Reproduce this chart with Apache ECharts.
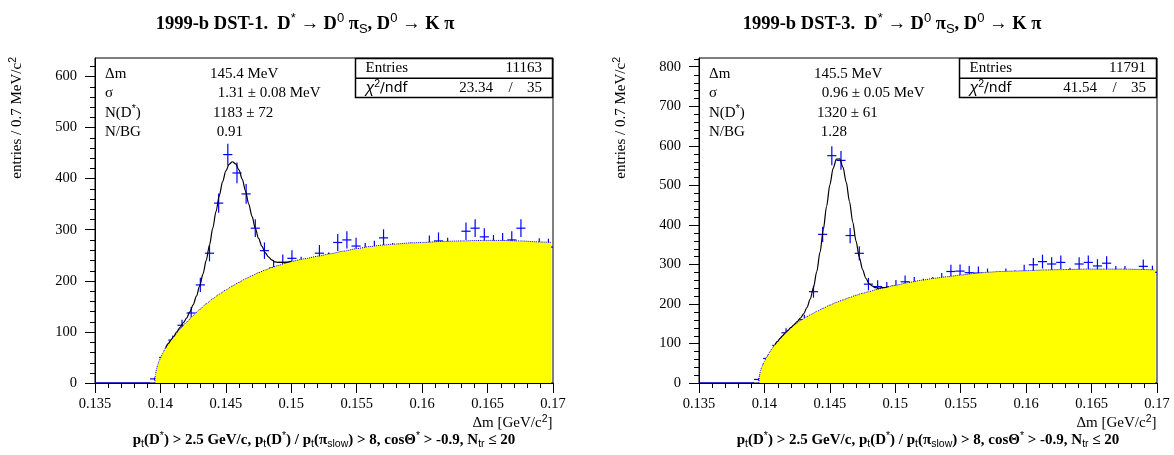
<!DOCTYPE html>
<html><head><meta charset="utf-8">
<script src="https://cdn.jsdelivr.net/npm/echarts@6/dist/echarts.min.js"></script>
<style>html,body{margin:0;padding:0;background:#fff}#c{width:1174px;height:455px}</style>
</head><body><div id="c"></div>
<script>
// ---------- histogram definition ----------
const X_MIN = 0.135, X_MAX = 0.17, BIN_W = 0.0007, N_BINS = 50;
const X_TICK_LABELS = ['0.135','0.14','0.145','0.15','0.155','0.16','0.165','0.17'];
const X_MAJOR = [0.135,0.14,0.145,0.15,0.155,0.16,0.165,0.17];
const X_MINOR = [0.136,0.137,0.138,0.139,0.141,0.142,0.143,0.144,0.146,0.147,0.148,0.149,0.151,0.152,0.153,0.154,0.156,0.157,0.158,0.159,0.161,0.162,0.163,0.164,0.166,0.167,0.168,0.169];
const Y1_MAX = 636, Y2_MAX = 822;
const Y1_TICKS = [0,100,200,300,400,500,600];
const Y2_TICKS = [0,100,200,300,400,500,600,700,800];
const Y1_MINOR = [20,40,60,80,120,140,160,180,220,240,260,280,320,340,360,380,420,440,460,480,520,540,560,580,620];
const Y2_MINOR = [20,40,60,80,120,140,160,180,220,240,260,280,320,340,360,380,420,440,460,480,520,540,560,580,620,640,660,680,720,740,760,780,820];

// ---------- DST-1 (left) ----------
const counts1 = [0,0,0,0,0,0,8,50,84,113,137,192,254,352,447,411,370,303,259,225,
  236,244,232,225,254,240,275,280,268,258,262,284,258,250,259,258,272,278,268,255,
  297,303,286,273,277,280,303,258,267,266];
const bgX1 = [0.13957,0.13962,0.1397,0.1398,0.1399,0.1400,0.1402,0.1404,0.1406,0.1408,0.1410,
  0.1415,0.1420,0.1425,0.1430,0.1435,0.1440,0.1445,0.1450,0.1455,0.1460,
  0.1465,0.1470,0.1475,0.1480,0.1485,0.1490,0.1495,0.1500,
  0.1510,0.1520,0.1530,0.1540,0.1550,0.1560,0.1570,0.1580,0.1590,0.1600,
  0.1615,0.1630,0.1645,0.1660,0.1675,0.1690,0.16985];
const bgY1 = [0,17,27,36,43,49,60,69,77,84,90,
  106,119,132,144,155,165,174,182,190,197,
  204,210,216,221,226,230,234,238,
  243,248,253,258,263,267,270,272,274,275,
  277,278,279,279,278,276,275];
const fitX1 = [0.1404,0.1406,0.1408,0.14100,0.14125,0.14150,0.14175,0.14200,0.14225,0.14250,0.14275,
  0.14300,0.14325,0.14350,0.14375,0.14400,0.14425,0.14450,0.14475,0.14500,0.14525,0.14550,0.14575,
  0.14600,0.14625,0.14650,0.14675,0.14700,0.14725,0.14750,0.14775,0.14800,0.14825,0.14850,0.14875,
  0.14900,0.14950,0.15000];
const fitY1 = [69,77,84,91,100,109,118,127,139,153,170,
  190,213,240,270,303,336,367,394,415,428,433,429,
  417,399,376,350,326,303,283,268,255,247,241,237,
  236,236,238];
const statVals1 = ['145.4 MeV','1.31 \u00b1 0.08 MeV','1183 \u00b1 72','0.91'];
const entries1 = '11163', chi1 = '23.34', ndf1 = '35';

// ---------- DST-3 (right) ----------
const counts2 = [0,0,0,0,0,0,9,62,95,127,140,160,231,376,575,563,373,328,250,244,
  240,245,256,252,248,252,262,282,283,279,278,273,265,273,268,282,299,307,301,305,
  275,301,305,296,303,279,279,270,295,280];
const bgX2 = [0.13957,0.13962,0.1397,0.1398,0.1399,0.1400,0.1402,0.1404,0.1406,0.1408,0.1410,
  0.1412,0.1414,0.1416,0.1418,0.1420,0.1424,0.1428,0.1432,0.1436,0.1440,
  0.1445,0.1450,0.1455,0.1460,0.1465,0.1470,0.1475,0.1480,0.1485,0.1490,
  0.1500,0.1510,0.1520,0.1530,0.1540,0.1550,0.1560,0.1570,0.1580,0.1590,0.1600,
  0.1615,0.1630,0.1645,0.1660,0.1675,0.1690,0.16985];
const bgY2 = [0,19,31,41,48,55,67,78,88,97,105,
  113,120,127,133,139,150,159,167,174,181,
  189,197,204,210,216,222,227,231,236,240,
  247,254,260,265,269,273,277,280,282,283,284,
  286,287,288,288,288,287,286];
const fitX2 = [0.1408,0.1410,0.1412,0.1414,0.1416,0.1418,
  0.1420,0.14225,0.1425,0.14275,0.1430,0.14325,0.1435,0.14375,0.1440,0.14425,0.1445,0.14475,
  0.1450,0.14525,0.1455,0.14575,0.1460,0.14625,0.1465,0.14675,0.1470,0.14725,0.1475,0.14775,
  0.1480,0.14825,0.1485,0.14875,0.1490,0.1495];
const fitY2 = [97,105,113,120,127,133,
  140,147,155,164,175,191,212,242,282,331,388,447,
  501,543,566,567,546,508,459,407,359,318,287,265,
  251,245,241,240,241,244];
const statVals2 = ['145.5 MeV','0.96 \u00b1 0.05 MeV','1320 \u00b1 61','1.28'];
const entries2 = '11791', chi2 = '41.54', ndf2 = '35';

const STAT_NAMES = ['\u0394m','\u03c3','N(D{sup|*})','N/BG'];
const TITLES = ['1999-b DST-1.  D{tsup|*} \u2192 D{tsup|0} \u03c0{tsub|S}, D{tsup|0} \u2192 K \u03c0',
                '1999-b DST-3.  D{tsup|*} \u2192 D{tsup|0} \u03c0{tsub|S}, D{tsup|0} \u2192 K \u03c0'];
const CUTS = 'p{sub|t}(D{sup|*}) > 2.5 GeV/c, p{sub|t}(D{sup|*}) / p{sub|t}(\u03c0{sub|slow}) > 8, cos\u0398{sup|*} > -0.9, N{sub|tr} \u2264 20';
const Y_NAME = 'entries / 0.7 MeV/c{sup|2}';
const X_NAME = '\u0394m [GeV/c{sup|2}]';

// ---------- layout ----------
const SERIF = 'Liberation Serif';
const PANELS = [
  {left: 95, top: 58, width: 458, height: 325, yMax: Y1_MAX, yTicks: Y1_TICKS, yMinor: Y1_MINOR,
   counts: counts1, bgX: bgX1, bgY: bgY1, fitX: fitX1, fitY: fitY1, stats: statVals1,
   entries: entries1, chi: chi1, ndf: ndf1, title: TITLES[0], titleX: 305},
  {left: 699, top: 58, width: 458, height: 325, yMax: Y2_MAX, yTicks: Y2_TICKS, yMinor: Y2_MINOR,
   counts: counts2, bgX: bgX2, bgY: bgY2, fitX: fitX2, fitY: fitY2, stats: statVals2,
   entries: entries2, chi: chi2, ndf: ndf2, title: TITLES[1], titleX: 892}
];

const RICH = {
  sup: {fontSize: 10.5, lineHeight: 11, verticalAlign: 'top'},
  sub: {fontSize: 10.5, lineHeight: 11, verticalAlign: 'bottom'},
  tsup: {fontSize: 13, lineHeight: 13, verticalAlign: 'top'},
  tsub: {fontSize: 13, lineHeight: 13, verticalAlign: 'bottom'},
  chi: {fontStyle: 'italic', fontSize: 16},
  sans: {fontFamily: 'DejaVu Sans', fontSize: 14}
};
function txt(x, y, text, o) {
  return {type: 'text', x: x, y: y, silent: true, z: 100,
    style: Object.assign({text: text, fill: '#000', fontFamily: SERIF, fontSize: 15,
      align: 'left', verticalAlign: 'middle', lineHeight: 19, rich: RICH}, o || {})};
}

const grids = [], xAxes = [], yAxes = [], series = [], graphics = [];
PANELS.forEach((p, g) => {
  const dx = p.left - 95;
  grids.push({left: p.left, top: p.top, width: p.width, height: p.height,
    show: true, borderColor: '#000', borderWidth: 1, containLabel: false});
  const xi = xAxes.length, yi = yAxes.length;
  xAxes.push({type: 'value', gridIndex: g, min: X_MIN, max: X_MAX, interval: 0.005, position: 'bottom',
    axisLine: {show: true, onZero: false, lineStyle: {color: '#000', width: 1}},
    axisTick: {show: true, length: 10, customValues: X_MAJOR, lineStyle: {color: '#000', width: 1}},
    axisLabel: {show: true, margin: 14, customValues: X_MAJOR, fontFamily: SERIF, fontSize: 14.5, color: '#000',
      formatter: v => { const i = X_MAJOR.findIndex(t => Math.abs(t - v) < 1e-7); return i >= 0 ? X_TICK_LABELS[i] : ''; }},
    splitLine: {show: false}});
  yAxes.push({type: 'value', gridIndex: g, min: 0, max: p.yMax, interval: 100, position: 'left',
    axisLine: {show: true, onZero: false, lineStyle: {color: '#000', width: 1}},
    axisTick: {show: true, length: 10, customValues: p.yTicks, lineStyle: {color: '#000', width: 1}},
    axisLabel: {show: true, margin: 18, customValues: p.yTicks, fontFamily: SERIF, fontSize: 14.5, color: '#000',
      formatter: v => (p.yTicks.indexOf(Math.round(v)) >= 0 && Math.abs(v - Math.round(v)) < 1e-6) ? String(Math.round(v)) : ''},
    splitLine: {show: false}});

  // minor ticks, placed through the axis scales
  series.push({type: 'custom', xAxisIndex: xi, yAxisIndex: yi, z: 10, clip: false, silent: true,
    data: X_MINOR.map(v => [v, 0]),
    renderItem: (params, api) => {
      const c = api.coord([api.value(0), 0]);
      const x = Math.round(c[0]) + 0.5, y = Math.round(c[1]);
      return {type: 'line', shape: {x1: x, y1: y, x2: x, y2: y + 5}, style: {stroke: '#000', lineWidth: 1}};
    }});
  series.push({type: 'custom', xAxisIndex: xi, yAxisIndex: yi, z: 10, clip: false, silent: true,
    data: p.yMinor.map(v => [X_MIN, v]),
    renderItem: (params, api) => {
      const c = api.coord([X_MIN, api.value(1)]);
      const x = Math.round(c[0]), y = Math.round(c[1]) + 0.5;
      return {type: 'line', shape: {x1: x - 5, y1: y, x2: x, y2: y}, style: {stroke: '#000', lineWidth: 1}};
    }});

  const pts = p.counts.map((c, i) => [X_MIN + (i + 0.5) * BIN_W, c]);
  series.push({type: 'custom', xAxisIndex: xi, yAxisIndex: yi, z: 2, clip: true, silent: true,
    data: pts,
    renderItem: (params, api) => {
      const x = api.value(0), n = api.value(1), e = Math.sqrt(n);
      const a = api.coord([x - BIN_W / 2, n]), b = api.coord([x + BIN_W / 2, n]);
      const st = {stroke: '#0000ff', lineWidth: 1.2};
      const ch = [{type: 'line', shape: {x1: a[0], y1: a[1], x2: b[0], y2: b[1]}, style: st}];
      if (e > 0) {
        const t = api.coord([x, n + e]), u = api.coord([x, n - e]);
        ch.push({type: 'line', shape: {x1: t[0], y1: t[1], x2: u[0], y2: u[1]}, style: st});
      }
      return {type: 'group', children: ch};
    }});
  series.push({type: 'line', xAxisIndex: xi, yAxisIndex: yi, z: 3, silent: true,
    data: p.bgX.map((x, i) => [x, p.bgY[i]]), showSymbol: false, smooth: 0.2, smoothMonotone: 'x',
    lineStyle: {color: '#0000ff', width: 1, type: 'dotted'},
    areaStyle: {color: '#ffff00', opacity: 1}});
  series.push({type: 'line', xAxisIndex: xi, yAxisIndex: yi, z: 4, silent: true,
    data: p.fitX.map((x, i) => [x, p.fitY[i]]), showSymbol: false, smooth: 0.3, smoothMonotone: 'x',
    lineStyle: {color: '#000', width: 1.2}});

  // texts
  graphics.push(txt(p.titleX, 24, p.title, {align: 'center', fontWeight: 'bold', fontSize: 18.5, lineHeight: 24}));
  const sy = [74, 93.5, 113, 132];
  const sx = [210, 217.7, 213, 216.7];
  STAT_NAMES.forEach((nm, k) => {
    graphics.push(txt(105 + dx, sy[k], nm));
    graphics.push(txt(sx[k] + dx, sy[k], p.stats[k]));
  });
  // stats box
  graphics.push({type: 'rect', z: 99, silent: true,
    shape: {x: 355.5 + dx, y: 58.5, width: 197, height: 39},
    style: {fill: '#fff', stroke: '#000', lineWidth: 1.5}});
  graphics.push({type: 'line', z: 99, silent: true,
    shape: {x1: 355.5 + dx, y1: 78.3, x2: 552.5 + dx, y2: 78.3},
    style: {stroke: '#000', lineWidth: 1.5}});
  graphics.push(txt(365.5 + dx, 68.3, 'Entries'));
  graphics.push(txt(542 + dx, 68.3, p.entries, {align: 'right'}));
  graphics.push(txt(365.5 + dx, 88.5, '{chi|\u03c7}{sup|2}{sans|/ndf}'));
  graphics.push(txt(493 + dx, 88.5, p.chi, {align: 'right'}));
  graphics.push(txt(510.7 + dx, 88.5, '/', {align: 'center'}));
  graphics.push(txt(542 + dx, 88.5, p.ndf, {align: 'right'}));
  // axis names
  const yn = txt(17.5 + dx, 57, Y_NAME, {align: 'right'});
  yn.rotation = Math.PI / 2;
  graphics.push(yn);
  graphics.push(txt(552.5 + dx, 423, X_NAME, {align: 'right'}));
  graphics.push(txt(324 + dx, 440, CUTS, {align: 'center', fontWeight: 'bold'}));
});

const chart = echarts.init(document.getElementById('c'), null, {renderer: 'canvas'});
chart.setOption({
  animation: false,
  backgroundColor: '#fff',
  grid: grids, xAxis: xAxes, yAxis: yAxes, series: series,
  graphic: {elements: graphics}
});
</script></body></html>
